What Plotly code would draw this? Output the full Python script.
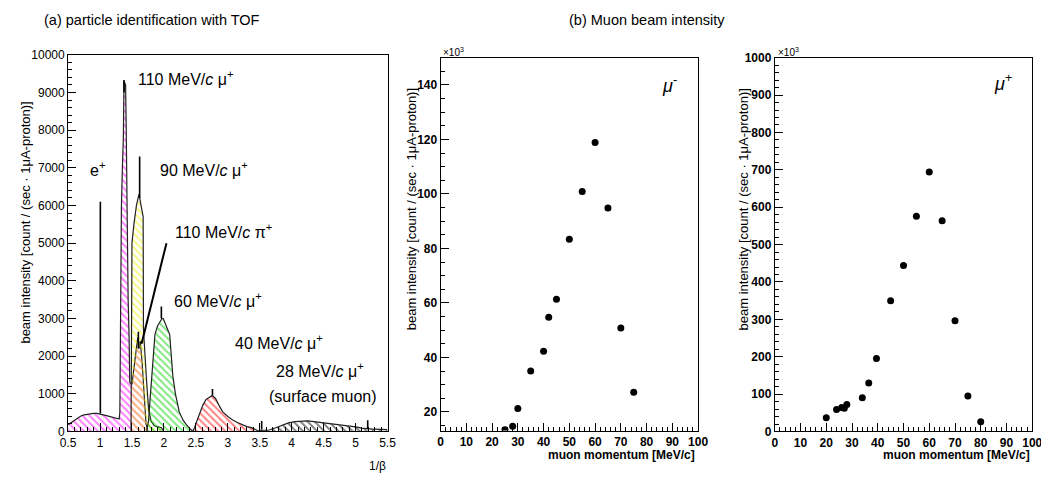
import plotly.graph_objects as go

# ---------------- data ----------------
# (a) TOF spectrum components (1/beta, counts)
magenta_x = [0.50, 0.55, 0.60, 0.65, 0.70, 0.75, 0.80, 0.85, 0.90, 0.95, 1.00, 1.05, 1.10, 1.15, 1.20,
             1.25, 1.30, 1.31, 1.32, 1.335, 1.35, 1.365, 1.375, 1.40, 1.41, 1.425, 1.44, 1.455, 1.465,
             1.50, 1.53, 1.56, 1.59, 1.61, 1.63, 1.66, 1.68, 1.70, 1.72, 1.75]
magenta_y = [180, 240, 310, 360, 410, 440, 460, 470, 480, 480, 470, 440, 420, 400, 380,
             340, 330, 500, 3000, 6000, 7000, 7800, 9300, 9200, 8000, 5500, 3500, 2500, 1300,
             1250, 1700, 2100, 2500, 2200, 2400, 1800, 1200, 600, 200, 0]

yellow_x = [1.485, 1.49, 1.50, 1.53, 1.57, 1.61, 1.63, 1.66, 1.675, 1.68, 1.70, 1.73, 1.76, 1.80,
            1.85, 1.90, 1.96, 2.00]
yellow_y = [0, 3300, 5000, 5500, 6000, 6300, 6100, 5800, 5700, 2700, 2000, 1300, 600, 270,
            150, 120, 100, 0]

green_x = [1.73, 1.76, 1.78, 1.82, 1.86, 1.90, 1.94, 1.97, 1.99, 2.02, 2.06, 2.09, 2.12, 2.14,
           2.18, 2.24, 2.30, 2.35, 2.42, 2.46]
green_y = [0, 300, 780, 1700, 2580, 2800, 2900, 3000, 3000, 2850, 2700, 2580, 1900, 1470,
           1000, 520, 300, 180, 50, 0]

red_x = [2.45, 2.48, 2.52, 2.56, 2.61, 2.66, 2.71, 2.75, 2.78, 2.81, 2.86, 2.92, 3.00, 3.07,
         3.15, 3.23, 3.30, 3.38, 3.45, 3.50]
red_y = [0, 100, 300, 500, 700, 850, 910, 950, 920, 870, 700, 520, 400, 310,
         240, 180, 130, 95, 50, 0]

surface_x = [3.50, 3.55, 3.65, 3.75, 3.85, 3.95, 4.05, 4.15, 4.25, 4.35, 4.50, 4.65, 4.78, 4.90,
             5.00, 5.10, 5.20, 5.30, 5.40, 5.50]
surface_y = [30, 30, 40, 100, 170, 230, 260, 280, 280, 260, 230, 200, 180, 150,
             120, 90, 70, 60, 55, 50]

# narrow spikes in the total histogram
spike_x = [1.005, 1.375, 1.62, 1.60, 1.96, 2.76, 3.53, 5.19]
spike_lo = [480, 9000, 6200, 2200, 3000, 950, 50, 60]
spike_hi = [6100, 9330, 7300, 2650, 3320, 1125, 280, 300]

# (b) muon beam intensity, x10^3 count/(sec 1uA)
mum_p = [25, 28, 30, 35, 40, 42, 45, 50, 55, 60, 65, 70, 75]
mum_i = [13.5, 14.8, 21.3, 35.0, 42.3, 54.8, 61.4, 83.4, 100.9, 118.9, 94.9, 50.8, 27.2]
mup_p = [20, 24, 26, 27, 28, 34, 36.5, 39.5, 45, 50, 55, 60, 65, 70, 75, 80]
mup_i = [37, 59, 64, 62, 72, 90, 130, 195, 350, 444, 576, 694, 564, 296, 95, 26]

# the page body adds an 8 px margin at top/left; the window crops the rest
OFF = 8
W, H = 1049, 480
FONT = "Liberation Sans, Arial, Helvetica, sans-serif"


def px(x):
    return (x - OFF) / W


def py(y):
    return 1 - (y - OFF) / H


fig = go.Figure()


def hatch(xs, ys, color):
    fig.add_trace(go.Scatter(
        x=xs, y=ys, mode="lines", fill="tozeroy",
        fillcolor="rgba(0,0,0,0)",
        fillpattern=dict(shape="\\", fgcolor=color, bgcolor="rgba(0,0,0,0)",
                         size=5, solidity=0.4),
        line=dict(color="#222222", width=1.2),
        xaxis="x", yaxis="y", hoverinfo="skip"))


hatch(magenta_x, magenta_y, "#ff00ff")
hatch(yellow_x, yellow_y, "#f0f000")
hatch(green_x, green_y, "#00d000")
hatch(red_x, red_y, "#ff0000")
hatch(surface_x, surface_y, "#000000")

sx, sy = [], []
for xv, lo, hi in zip(spike_x, spike_lo, spike_hi):
    sx += [xv, xv, None]
    sy += [lo, hi, None]
fig.add_trace(go.Scatter(x=sx, y=sy, mode="lines", line=dict(color="black", width=1.6),
                         xaxis="x", yaxis="y", hoverinfo="skip"))

fig.add_trace(go.Scatter(x=mum_p, y=mum_i, mode="markers",
                         marker=dict(color="black", size=7),
                         xaxis="x2", yaxis="y2"))
fig.add_trace(go.Scatter(x=mup_p, y=mup_i, mode="markers",
                         marker=dict(color="black", size=7),
                         xaxis="x3", yaxis="y3"))

ax_common = dict(showline=True, linecolor="black", linewidth=1, mirror=True,
                 ticks="inside", ticklen=8, tickcolor="black", showgrid=False,
                 zeroline=False)

fig.update_layout(
    width=W, height=H, margin=dict(l=0, r=0, t=0, b=0),
    paper_bgcolor="white", plot_bgcolor="white", showlegend=False,
    font=dict(family=FONT, color="black"),
    xaxis=dict(domain=[px(61), px(386)], range=[0.5, 5.5], anchor="y",
               tick0=0.5, dtick=0.5, tickfont=dict(size=12),
               minor=dict(dtick=0.1, ticklen=4, ticks="inside", tickcolor="black"),
               **ax_common),
    yaxis=dict(domain=[py(437), py(49)], range=[0, 10000], anchor="x",
               dtick=1000, tickformat="d", tickfont=dict(size=12),
               minor=dict(dtick=200, ticklen=4, ticks="inside", tickcolor="black"),
               **ax_common),
    xaxis2=dict(domain=[px(440), px(702)], range=[0, 100], anchor="y2",
                dtick=10, tickfont=dict(size=12, weight="bold"),
                minor=dict(dtick=2, ticklen=4, ticks="inside", tickcolor="black"),
                **ax_common),
    yaxis2=dict(domain=[py(436), py(52)], range=[13.2, 150], anchor="x2",
                tick0=0, dtick=20, tickfont=dict(size=12, weight="bold"),
                minor=dict(dtick=5, ticklen=4, ticks="inside", tickcolor="black"),
                **ax_common),
    xaxis3=dict(domain=[px(780), px(1042)], range=[0, 100], anchor="y3",
                dtick=10, tickfont=dict(size=12, weight="bold"),
                minor=dict(dtick=2, ticklen=4, ticks="inside", tickcolor="black"),
                **ax_common),
    yaxis3=dict(domain=[py(437), py(52)], range=[0, 1000], anchor="x3",
                dtick=100, tickfont=dict(size=12, weight="bold"),
                minor=dict(dtick=20, ticklen=4, ticks="inside", tickcolor="black"),
                **ax_common),
)

# pi+ pointer line
fig.add_shape(type="line", xref="x", yref="y", x0=1.65, y0=2330, x1=2.04, y1=5000,
              line=dict(color="black", width=2))

ann = []


def text(x, y, s, size=14, xa="left", ya="middle", angle=0, family=FONT, **kw):
    ann.append(dict(x=px(x), y=py(y), xref="paper", yref="paper", text=s,
                    showarrow=False, xanchor=xa, yanchor=ya, textangle=angle,
                    font=dict(size=size, family=family, color="black", **kw)))


mev = "MeV/<i>c</i>"
text(130, 73, f"110 {mev} μ<sup>+</sup>", size=16)
text(81, 167, "e<sup>+</sup>", size=16)
text(152, 167, f"90 {mev} μ<sup>+</sup>", size=16)
text(168, 230, f"110 {mev} π<sup>+</sup>", size=16)
text(167, 302, f"60 {mev} μ<sup>+</sup>", size=16)
text(229, 345, f"40 {mev} μ<sup>+</sup>", size=16)
text(271, 374, f"28 {mev} μ<sup>+</sup>", size=16)
text(263, 401, "(surface muon)", size=16)

text(146, 13, "(a) particle identification with TOF", size=14.5, xa="center")
text(650, 13, "(b) Muon beam intensity", size=14.5, xa="center")

ytitle = "beam intensity [count / (sec · 1μA-proton)]"
text(18, 222, ytitle, size=13, xa="center", angle=-90)
text(410, 208, ytitle, size=13, xa="center", angle=-90)
text(748, 208, ytitle, size=13, xa="center", angle=-90)

text(386, 473, "1/β", size=12, xa="right")
text(701, 461, "<b>muon momentum [MeV/c]</b>", size=12, xa="right")
text(1042, 461, "<b>muon momentum [MeV/c]</b>", size=12, xa="right")

text(440, 46, "×10<sup>3</sup>", size=10)
text(781, 46, "×10<sup>3</sup>", size=10)

text(673, 80, "<i>μ</i><sup>-</sup>", size=18, xa="center")
text(1012, 78, "<i>μ</i><sup>+</sup>", size=18, xa="center")

fig.update_layout(annotations=ann)
fig.write_html("out.html")
